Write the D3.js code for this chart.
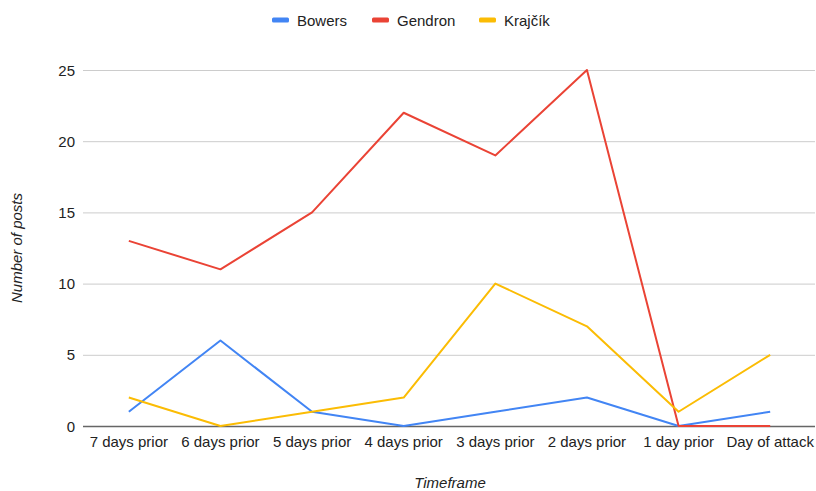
<!DOCTYPE html>
<html>
<head>
<meta charset="utf-8">
<script src="https://cdn.jsdelivr.net/npm/d3@7"></script>
<style>
  body { margin: 0; background: #fff; }
  svg { display: block; font-family: "Liberation Sans", Arial, sans-serif; }
</style>
</head>
<body>
<svg id="chart" width="816" height="491"></svg>
<script>
const categories = ["7 days prior", "6 days prior", "5 days prior", "4 days prior", "3 days prior", "2 days prior", "1 day prior", "Day of attack"];
const seriesNames = ["Bowers", "Gendron", "Krajčík"];
const bowers = [1, 6, 1, 0, 1, 2, 0, 1];
const gendron = [13, 11, 15, 22, 19, 25, 0, 0];
const krajcik = [2, 0, 1, 2, 10, 7, 1, 5];
const yTicks = [0, 5, 10, 15, 20, 25];
const colors = ["#4285F4", "#EA4335", "#FBBC04"];
const xTitle = "Timeframe";
const yTitle = "Number of posts";

const series = [bowers, gendron, krajcik];
const svg = d3.select("#chart");
const plotLeft = 83, plotRight = 816, plotTop = 70, plotBottom = 426;

const x = d3.scaleBand().domain(categories).range([plotLeft, plotRight]);
const y = d3.scaleLinear().domain([0, 25]).range([plotBottom, plotTop]);

// gridlines
svg.append("g").selectAll("line").data(yTicks.filter(d => d > 0)).join("line")
  .attr("x1", plotLeft).attr("x2", plotRight - 1)
  .attr("y1", d => y(d) + 0.5).attr("y2", d => y(d) + 0.5)
  .attr("stroke", "#cccccc").attr("stroke-width", 1);

// baseline
svg.append("line")
  .attr("x1", plotLeft).attr("x2", plotRight - 1)
  .attr("y1", plotBottom + 0.5).attr("y2", plotBottom + 0.5)
  .attr("stroke", "#666").attr("stroke-width", 1.5);

// y tick labels
svg.append("g").selectAll("text").data(yTicks).join("text")
  .attr("x", 75).attr("y", d => y(d) + 5.5)
  .attr("text-anchor", "end").attr("font-size", 15).attr("fill", "#222")
  .text(d => d);

// x labels
svg.append("g").selectAll("text").data(categories).join("text")
  .attr("x", d => x(d) + x.bandwidth() / 2).attr("y", 447)
  .attr("text-anchor", "middle").attr("font-size", 15).attr("fill", "#222")
  .text(d => d);

// lines
const line = d3.line()
  .x((d, i) => x(categories[i]) + x.bandwidth() / 2)
  .y(d => y(d));
svg.append("g").selectAll("path").data(series).join("path")
  .attr("d", d => line(d))
  .attr("fill", "none")
  .attr("stroke", (d, i) => colors[i])
  .attr("stroke-width", 2)
  .attr("stroke-linejoin", "round");

// axis titles
svg.append("text")
  .attr("x", 450).attr("y", 488)
  .attr("text-anchor", "middle").attr("font-size", 15).attr("font-style", "italic").attr("fill", "#222")
  .text(xTitle);
svg.append("text")
  .attr("transform", "translate(22,248) rotate(-90)")
  .attr("text-anchor", "middle").attr("font-size", 15).attr("font-style", "italic").attr("fill", "#222")
  .text(yTitle);

// legend
const legendX = [272, 372, 479];
const lg = svg.append("g").selectAll("g").data(seriesNames).join("g")
  .attr("transform", (d, i) => `translate(${legendX[i]},20)`);
lg.append("rect").attr("x", 0).attr("y", -2.5).attr("width", 17).attr("height", 5).attr("rx", 1.5)
  .attr("fill", (d, i) => colors[i]);
lg.append("text").attr("x", 25).attr("y", 5.5).attr("font-size", 15).attr("fill", "#222").text(d => d);
</script>
</body>
</html>
